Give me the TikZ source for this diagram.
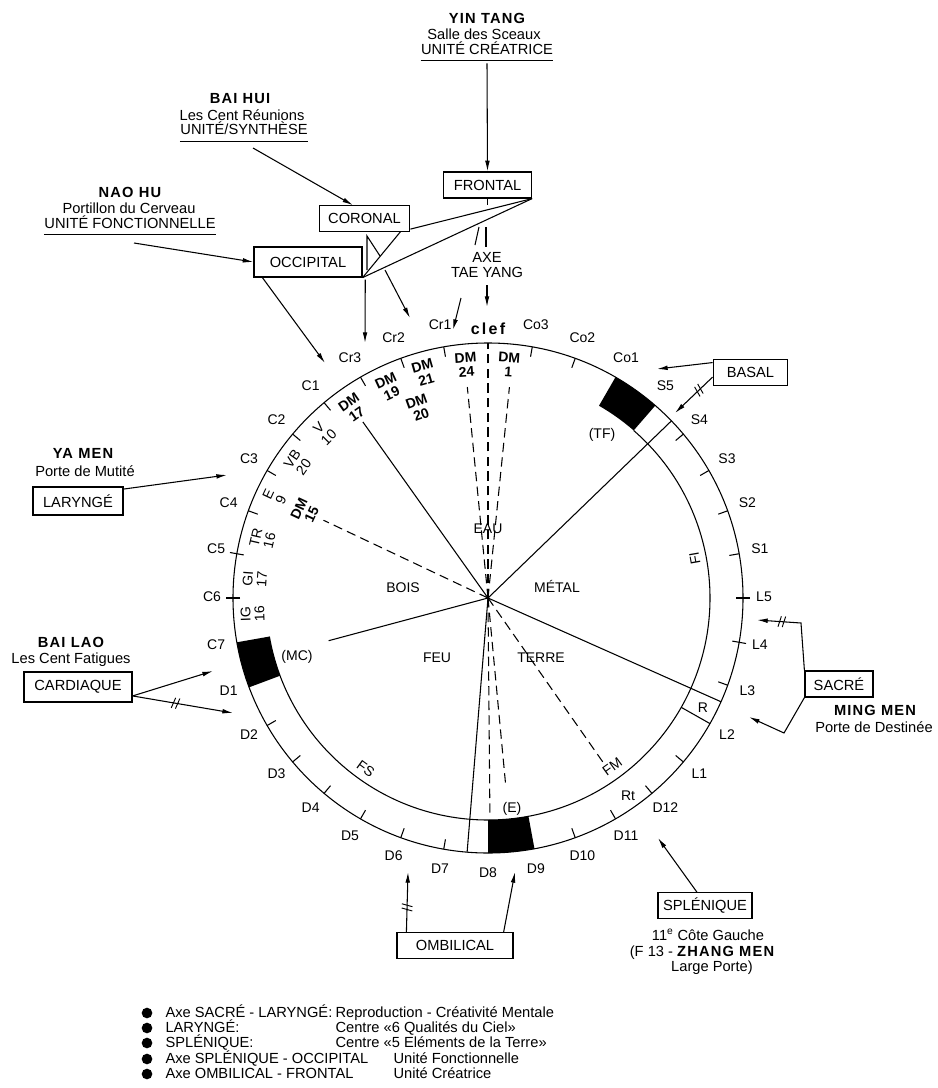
\documentclass[tikz,border=0pt]{standalone}
\usepackage{fontspec}
\setmainfont{Liberation Sans}
\newfontfamily\tb[LetterSpace=8]{Liberation Sans Bold}
\newfontfamily\cb[LetterSpace=14]{Liberation Sans Bold}
\usetikzlibrary{arrows.meta,decorations.markings}
\begin{document}
\begin{tikzpicture}[x=0.75pt,y=-0.75pt,line width=0.8pt,
  every node/.style={inner sep=0pt},
  tx/.style={font=\fontsize{11}{13}\selectfont, text height=8pt, text depth=2.5pt},
  ttl/.style={font=\fontsize{11}{13}\tb, text height=8pt, text depth=2.5pt},
  lab/.style={font=\fontsize{10.5}{12}\selectfont, text height=7.6pt, text depth=2.4pt},
  rl/.style={font=\fontsize{10.5}{10.5}\selectfont, align=center},
  rlb/.style={font=\fontsize{10.5}{10.5}\selectfont\bfseries, align=center},
  box/.style={draw, line width=0.9pt, font=\fontsize{11}{13}\selectfont},
  arr/.style={-{Latex[length=8pt,width=3.5pt]}},
  dsh/.style={dash pattern=on 7pt off 4pt},
  dslash/.style={postaction={decorate,decoration={markings,mark=at position #1 with {\draw[-,solid,line width=0.7pt] (-2pt,-4pt)--(0pt,4pt) (1.2pt,-4pt)--(3.2pt,4pt);}}}},
  bul/.style={circle, fill, minimum size=8pt},
  leg/.style={font=\fontsize{11}{13}\selectfont, text height=8pt, text depth=2.5pt, anchor=west},
  ]
\useasboundingbox (0,0) rectangle (938,1088);

% ---------- boxes ----------
\node[box, minimum width=66pt, minimum height=19.5pt] (frontal) at (487.5,185) {FRONTAL};
\node[box, minimum width=68pt, minimum height=19pt] (coronal) at (364.5,218.5) {CORONAL};
\node[box, minimum width=81pt, minimum height=22.5pt] (occ) at (308,262) {OCCIPITAL};
\node[box, minimum width=56pt, minimum height=20pt] (basal) at (750.5,372.5) {BASAL};
\node[box, minimum width=67.5pt, minimum height=21pt] (laryn) at (78,501) {LARYNGÉ};
\node[box, minimum width=81pt, minimum height=22.5pt] (cardi) at (78,687) {CARDIAQUE};
\node[box, minimum width=51pt, minimum height=19.5pt] (sacre) at (839,684) {SACRÉ};
\node[box, minimum width=70.5pt, minimum height=19pt] (splen) at (705,905.5) {SPLÉNIQUE};
\node[box, minimum width=87pt, minimum height=19pt] (ombil) at (455,945.5) {OMBILICAL};

% ---------- titles ----------
\node[ttl] (yt1) at (487,19.5) {YIN TANG};
\node[tx] (yt2) at (484,35.5) {Salle des Sceaux};
\node[tx] (yt3) at (487,50.5) {UNITÉ CRÉATRICE};
\draw ([yshift=-2pt]yt3.south west) -- ([yshift=-2pt]yt3.south east);

\node[ttl] (bh1) at (240,99.5) {BAI HUI};
\node[tx] (bh2) at (242,116.5) {Les Cent Réunions};
\node[tx] (bh3) at (244,131) {UNITÉ/SYNTHÈSE};
\draw ([yshift=-2pt]bh3.south west) -- ([yshift=-2pt]bh3.south east);

\node[ttl] (nh1) at (130,193.5) {NAO HU};
\node[tx] (nh2) at (129,209.5) {Portillon du Cerveau};
\node[tx] (nh3) at (130,224.5) {UNITÉ FONCTIONNELLE};
\draw ([yshift=-2pt]nh3.south west) -- ([yshift=-2pt]nh3.south east);

\node[ttl] (ym1) at (83,454.5) {YA MEN};
\node[tx] (ym2) at (85,472.5) {Porte de Mutité};

\node[ttl] (bl1) at (71,643.5) {BAI LAO};
\node[tx] (bl2) at (71,659.5) {Les Cent Fatigues};

\node[ttl] (mm1) at (875,711.5) {MING MEN};
\node[tx] (mm2) at (874,728.5) {Porte de Destinée};

\node[tx] (sp1) at (708,936.5) {11\textsuperscript{e} Côte Gauche};
\node[tx] (sp2) at (702,952.5) {(F 13 - {\tb ZHANG MEN}};
\node[tx] (sp3) at (712,967.5) {Large Porte)};

\node[tx] (axe1) at (487,258.5) {AXE};
\node[tx] (axe2) at (487,273.5) {TAE YANG};

% ---------- free coordinates ----------
\coordinate (bhA) at (253,148);
\coordinate (nhA) at (134,243);
\coordinate (ymB) at (227,475);
\coordinate (caB1) at (213,671);
\coordinate (caB2) at (233,713);
\coordinate (baB1) at (657,369);
\coordinate (baB2) at (675,413);
\coordinate (saK1) at (801,623);
\coordinate (saB1) at (757,620);
\coordinate (saK2) at (784,733);
\coordinate (saB2) at (749,717);
\coordinate (spB) at (658,838);
\coordinate (omB1) at (408,872);
\coordinate (omB2) at (515,872);
\coordinate (ocB1) at (325,363);
\coordinate (ocB2) at (365,343);
\coordinate (arA3) at (385,270);
\coordinate (arB3) at (410,318);
\coordinate (arA4) at (461,298);
\coordinate (arB4) at (453,330);
\coordinate (clefA) at (487,307);
\coordinate (tr1) at (367,236);
\coordinate (tr2) at (367,270);
\coordinate (tr3) at (380,256);
\coordinate (br1) at (479,227);
\coordinate (br2) at (475,245);
\coordinate (br3) at (486,227);
\coordinate (br4) at (486,247);

% ---------- connectors ----------
\draw[arr] ([yshift=-4pt]yt3.south) -- (frontal.north);
\draw[arr] (bhA) -- ([xshift=-8.6pt]coronal.north);
\draw[arr] (nhA) -- (occ.west);
\draw (frontal.south east) -- ([yshift=2pt]coronal.south east);
\draw (frontal.south east) -- (occ.south east);
\draw ([xshift=-7.5pt]coronal.south east) -- (occ.south east);
\draw (tr2) -- (tr1) -- (tr3);
\draw (frontal.south) -- ([yshift=-5pt]frontal.south);
\draw (br1) -- (br2);
\draw (br3) -- (br4);
\draw[arr] ([yshift=-3pt]axe2.south) -- (clefA);
\draw[arr] ([xshift=6.75pt]occ.south west) -- (ocB1);
\draw[arr] ([xshift=2pt,yshift=-1.5pt]occ.south east) -- (ocB2);
\draw[arr] (arA3) -- (arB3);
\draw[arr] (arA4) -- (arB4);
\draw[arr] ([yshift=-3pt]basal.north west) -- (baB1);
\draw[arr, dslash=0.35] ([yshift=7pt]basal.south west) -- (baB2);
\draw[arr] ([yshift=-2pt]laryn.north east) -- (ymB);
\draw[arr] ([yshift=5pt]cardi.south east) -- (caB1);
\draw[arr, dslash=0.42] ([yshift=5pt]cardi.south east) -- (caB2);
\draw[arr, dslash=0.72] (sacre.north west) -- (saK1) -- (saB1);
\draw[arr] (sacre.south west) -- (saK2) -- (saB2);
\draw[arr] ([xshift=-6pt]splen.north) -- (spB);
\draw[arr, dslash=0.4] ([xshift=7.5pt]ombil.north west) -- (omB1);
\draw[arr] ([xshift=-7.5pt]ombil.north east) -- (omB2);

% ---------- wheel ----------
\begin{scope}[shift={(488,598)},yscale=-1]
\coordinate (O) at (0,0);
\draw (O) circle[radius=255];
\draw (49:222) arc[start angle=49,end angle=-170,radius=222];
\fill (49:222) arc[start angle=49,end angle=60,radius=222] -- (60:255) arc[start angle=60,end angle=49,radius=255] -- cycle;
\fill (-90:222) arc[start angle=-90,end angle=-79.5,radius=222] -- (-79.5:255) arc[start angle=-79.5,end angle=-90,radius=255] -- cycle;
\fill (-170:222) arc[start angle=-170,end angle=-159.5,radius=222] -- (-159.5:255) arc[start angle=-159.5,end angle=-170,radius=255] -- cycle;
\draw (-29.5:222) -- (-29.5:255);
% solid dividers
\draw (O) -- (44:255);
\draw (O) -- (125.4:216);
\draw (O) -- (195:165);
\draw (O) -- (-94.7:255);
\draw (O) -- (-24:255);
% dashed
\draw[dsh] (O) -- (90:255);
\draw[dsh] (O) -- (95.6:212);
\draw[dsh] (O) -- (84.2:212);
\draw[dsh] (O) -- (154.7:182);
\draw[dsh] (O) -- (-89.5:218);
\draw[dsh] (O) -- (-84.6:190);
\draw[dsh] (O) -- (-55:200);
% ticks
\foreach \a in {100,110,120,130,140,150,160,80,70,40,30,20,10,-20,-40,-50,-60,-70,-100,-110,-120,-130,-140,-150}
  \draw (\a:245) -- (\a:255);
\foreach \a in {170,180,0,-10}
  \draw (\a:248) -- (\a:262);
% outer labels
\node[font=\fontsize{12}{14}\cb, text height=8.5pt, text depth=2.5pt] (lclef) at (90:268) {clef};
\foreach \a/\t in {80/Co3,70/Co2,60/Co1,50/S5,40/S4,30/S3,20/S2,10/S1,0/L5,-10/L4,-20/L3,-30/L2,-40/L1,-50/D12,-60/D11,-70/D10,-80/D9,-90/D8,-100/D7,-110/D6,-120/D5,-130/D4,-140/D3,-150/D2,-160/D1,-170/C7,180/C6,170/C5,160/C4,150/C3,140/C2,130/C1,120/Cr3,110/Cr2,100/Cr1}
  \node[lab] (lab\t) at (\a:276) {\t};
% ring labels
\node[rlb, rotate=4] (dm24) at (95.4:234) {DM\\24};
\node[rlb, rotate=-4] (dm1) at (84.9:234) {DM\\1};
\node[rlb, rotate=16] (dm21) at (105.8:234) {DM\\21};
\node[rlb, rotate=20] (dm20) at (110:202) {DM\\20};
\node[rlb, rotate=25] (dm19) at (115.2:233) {DM\\19};
\node[rlb, rotate=35] (dm17) at (125.5:233) {DM\\17};
\node[rl, rotate=45] (v10) at (134.8:233) {V\\10};
\node[rl, rotate=55] (vb20) at (144.6:233) {VB\\20};
\node[rl, rotate=65] (e9) at (154.7:236) {E\\9};
\node[rlb, rotate=65] (dm15) at (154.7:202) {DM\\15};
\node[rl, rotate=77] (tr16) at (165.3:233) {TR\\16};
\node[rl, rotate=86] (gi17) at (175.3:234) {GI\\17};
\node[rl, rotate=92] (ig16) at (183.9:236) {IG\\16};
% inner labels
\node[lab] (eau) at (0,68) {EAU};
\node[lab] (bois) at (-85,9) {BOIS};
\node[lab] (metal) at (69,9) {MÉTAL};
\node[lab] (feu) at (-51,-61) {FEU};
\node[lab] (terre) at (53,-61) {TERRE};
\node[lab] (tf) at (114,163) {(TF)};
\node[lab] (mc) at (-191,-59) {(MC)};
\node[lab] (e) at (24,-211) {(E)};
\node[lab] (r) at (215,-111) {R};
\node[lab] (rt) at (140,-199) {Rt};
\node[lab, rotate=100] (fi) at (208,40) {FI};
\node[lab, rotate=36] (fm) at (125,-170) {FM};
\node[lab, rotate=-36] (fs) at (-123,-172) {FS};
\end{scope}

% ---------- legend ----------
\node[bul] (b1) at (147,1013) {};
\node[bul] (b2) at (147,1028) {};
\node[bul] (b3) at (147,1043) {};
\node[bul] (b4) at (147,1059) {};
\node[bul] (b5) at (147,1074) {};
\node[leg] (l1a) at (165,1014) {Axe SACRÉ - LARYNGÉ:};
\node[leg] (l1b) at (335,1014) {Reproduction - Créativité Mentale};
\node[leg] (l2a) at (165,1029) {LARYNGÉ:};
\node[leg] (l2b) at (335,1029) {Centre «6 Qualités du Ciel»};
\node[leg] (l3a) at (165,1044) {SPLÉNIQUE:};
\node[leg] (l3b) at (335,1044) {Centre «5 Eléments de la Terre»};
\node[leg] (l4a) at (165,1060) {Axe SPLÉNIQUE - OCCIPITAL};
\node[leg] (l4b) at (393,1060) {Unité Fonctionnelle};
\node[leg] (l5a) at (165,1075) {Axe OMBILICAL - FRONTAL};
\node[leg] (l5b) at (393,1075) {Unité Créatrice};
\end{tikzpicture}
\end{document}
